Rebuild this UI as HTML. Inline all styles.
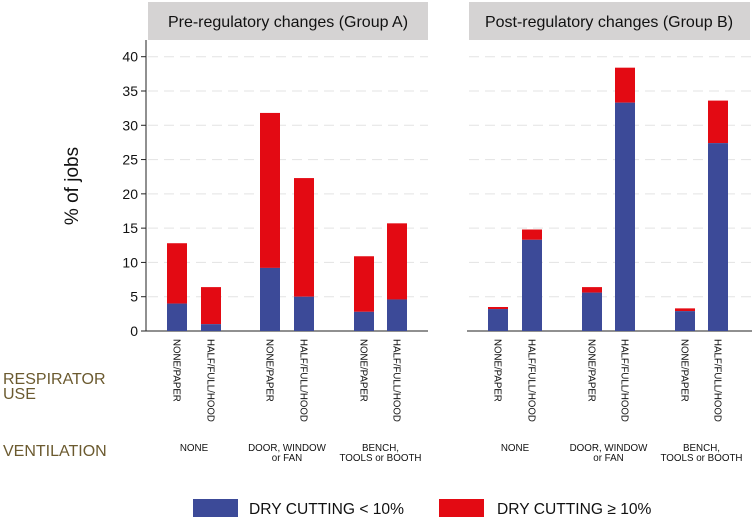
<!DOCTYPE html>
<html><head><meta charset="utf-8"><style>
body{margin:0;background:#fff;}
svg{display:block;font-family:"Liberation Sans",Arial,sans-serif;}
</style></head><body>
<svg id="chart" width="752" height="522" viewBox="0 0 752 522">
<g id="static">
<rect x="148" y="2" width="280" height="38" fill="#d5d3d3"/>
<text x="288" y="27" font-size="16" text-anchor="middle" fill="#111">Pre-regulatory changes (Group A)</text>
<rect x="469" y="2" width="281" height="38" fill="#d5d3d3"/>
<text x="609" y="27" font-size="16" text-anchor="middle" fill="#111">Post-regulatory changes (Group B)</text>
<text transform="translate(78,186) rotate(-90)" font-size="19" text-anchor="middle" fill="#111">% of jobs</text>
<text x="3" y="384" font-size="16" fill="#6b5a2f">RESPIRATOR</text>
<text x="3" y="399" font-size="16" fill="#6b5a2f">USE</text>
<text x="3" y="456" font-size="16" fill="#6b5a2f">VENTILATION</text>
<rect x="193" y="499" width="45" height="18" fill="#3c4a98"/>
<text x="249" y="514" font-size="15.6" fill="#111">DRY CUTTING &lt; 10%</text>
<rect x="439" y="499" width="45" height="18" fill="#e30a13"/>
<text x="497" y="514" font-size="15.6" fill="#111">DRY CUTTING ≥ 10%</text>
</g>
<g id="plot"></g>
</svg>
<script>
const respirator = ["NONE/PAPER","HALF/FULL/HOOD","NONE/PAPER","HALF/FULL/HOOD","NONE/PAPER","HALF/FULL/HOOD"];
const ventilation = [["NONE"],["DOOR, WINDOW","or FAN"],["BENCH,","TOOLS or BOOTH"]];
const yTicks = [0,5,10,15,20,25,30,35,40];
const groupABlue = [4.0,1.0,9.2,5.0,2.8,4.6];
const groupATotal = [12.8,6.4,31.8,22.3,10.9,15.7];
const groupBBlue = [3.2,13.3,5.6,33.3,2.9,27.4];
const groupBTotal = [3.5,14.8,6.4,38.4,3.3,33.6];

const NS="http://www.w3.org/2000/svg";
const plot=document.getElementById('plot');
function mk(tag,attrs,parent){const e=document.createElementNS(NS,tag);for(const k in attrs)e.setAttribute(k,attrs[k]);(parent||plot).appendChild(e);return e;}
const y0=331, pxPerUnit=(331-56.7)/40;
function yScale(v){return y0-v*pxPerUnit;}
const panels=[
 {x0:146,x1:428,centers:[177,211,270,304,364,397],blue:groupABlue,total:groupATotal,name:'a',axis:true},
 {x0:467,x1:752,centers:[498,532,592,625,685,718],blue:groupBBlue,total:groupBTotal,name:'b',axis:false}
];
panels.forEach(p=>{
  yTicks.forEach(t=>{
    if(t===0)return;
    const g=mk('line',{x1:p.x0+2,x2:p.x1,y1:yScale(t),y2:yScale(t),stroke:'#e3e3e3','stroke-width':1,'stroke-dasharray':'10,6'});
    
    
  });
  if(p.axis){
    const ax=mk('line',{x1:p.x0,x2:p.x0,y1:40,y2:y0,stroke:'#222','stroke-width':1});
    
    
    yTicks.forEach(t=>{
      const tk=mk('line',{x1:p.x0-5,x2:p.x0,y1:yScale(t),y2:yScale(t),stroke:'#222'});
      
      
      const tl=mk('text',{x:p.x0-8,y:yScale(t)+5,'font-size':14,'text-anchor':'end',fill:'#111'});
      tl.textContent=t;
      
      
    });
  }
  const xa=mk('line',{x1:p.x0,x2:p.x1,y1:y0,y2:y0,stroke:'#222','stroke-width':1});
  
  
  p.centers.forEach((c,i)=>{
    const b=p.blue[i], tot=p.total[i];
    const r=mk('rect',{x:c-10,y:yScale(tot),width:20,height:yScale(b)-yScale(tot),fill:'#e30a13'});
    
    
    const bl=mk('rect',{x:c-10,y:yScale(b),width:20,height:y0-yScale(b),fill:'#3c4a98'});
    
    
    const lab=mk('text',{transform:'translate('+(c-3.5)+',339) rotate(90)','font-size':9.7,fill:'#111'});
    lab.textContent=respirator[i];
    
    
  });
  ventilation.forEach((lines,j)=>{
    const cx=(p.centers[2*j]+p.centers[2*j+1])/2;
    lines.forEach((ln,k)=>{
      const t=mk('text',{x:cx,y:451+k*10,'font-size':9.8,'text-anchor':'middle',fill:'#111'});
      t.textContent=ln;
      
      
    });
  });
});
</script>
</body></html>
